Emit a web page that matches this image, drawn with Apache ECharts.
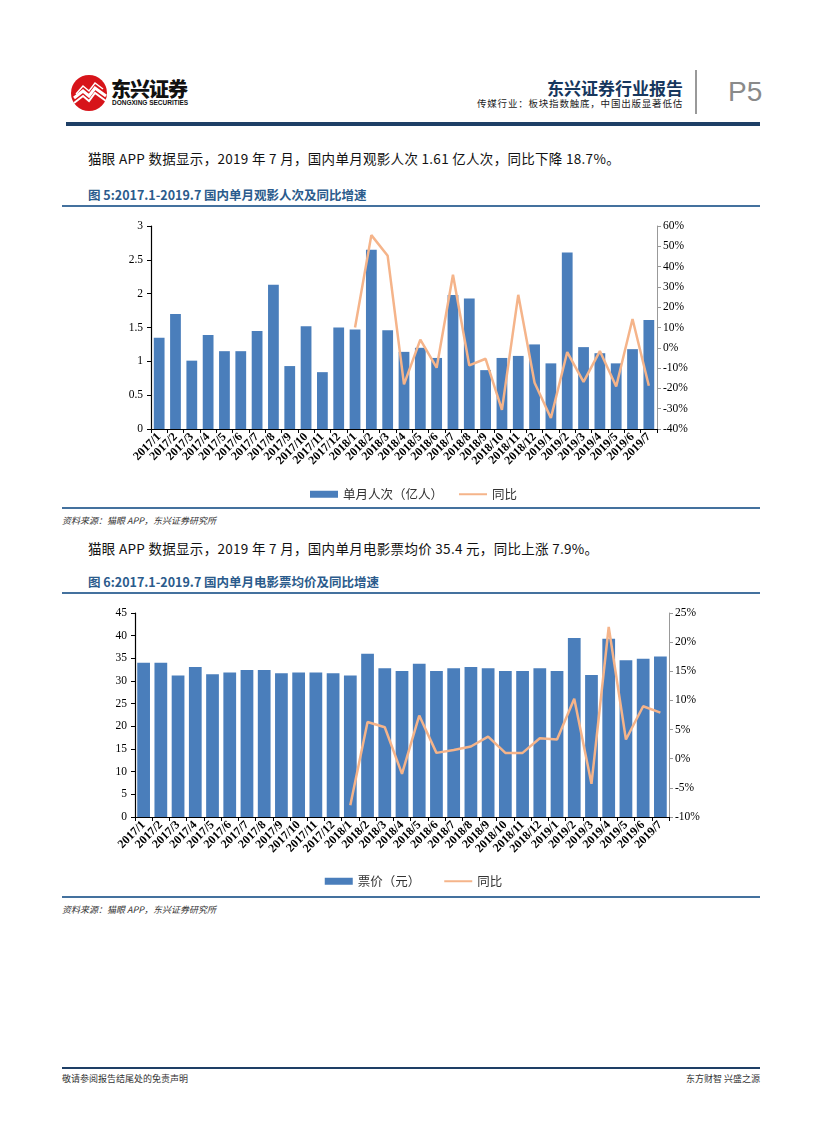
<!DOCTYPE html>
<html><head><meta charset="utf-8">
<script src="https://cdn.jsdelivr.net/npm/echarts@6/dist/echarts.min.js"></script>
<style>
html,body{margin:0;padding:0;background:#fff;}
body{width:827px;height:1122px;position:relative;overflow:hidden;font-family:"Noto Sans CJK SC","Noto Sans",sans-serif;}
.abs{position:absolute;}
.rule{position:absolute;left:62px;width:698px;}
.body{position:absolute;left:88px;font-size:13.5px;color:#111;font-family:"Noto Sans CJK SC";letter-spacing:0.3px;}
.ftitle{position:absolute;left:88px;font-size:12.5px;font-weight:bold;color:#2B5B8C;}
.src{position:absolute;left:62px;font-size:9px;font-style:italic;color:#333;}
</style></head>
<body>
<!-- header -->
<svg class="abs" style="left:70px;top:74px" width="40" height="40" viewBox="0 0 40 40">
 <circle cx="19" cy="19" r="18" fill="#D7141A"/>
 <path d="M4 24 L13 17 L19 22 L25 14 L36 22" stroke="#fff" stroke-width="3" fill="none"/>
 <path d="M4 29 L13 22 L19 27 L25 19 L36 27" stroke="#fff" stroke-width="2" fill="none"/>
 <path d="M6 20 L13 12 L19 17 L25 9 L33 15" stroke="#fff" stroke-width="1.5" fill="none"/>
</svg>
<div class="abs" style="left:111px;top:74px;font-size:20px;font-weight:900;color:#111;letter-spacing:-1px">东兴证券</div>
<div class="abs" style="left:112px;top:99px;font-size:6.5px;font-weight:bold;color:#111;font-family:'Liberation Sans'">DONGXING SECURITIES</div>
<div class="abs" style="right:144px;top:75px;font-size:17px;font-weight:bold;color:#17375E">东兴证券行业报告</div>
<div class="abs" style="right:144px;top:96px;font-size:9.5px;color:#222;letter-spacing:0.8px">传媒行业：板块指数触底，中国出版显著低估</div>
<div class="abs" style="left:695px;top:70px;width:2px;height:44px;background:#999"></div>
<div class="abs" style="left:728px;top:76px;font-size:28px;color:#8a8a8a;font-family:'Liberation Sans'">P5</div>
<div class="rule" style="left:66px;width:694px;top:122px;height:4px;background:#1E3F66"></div>

<div class="body" style="top:148px">猫眼 APP 数据显示，2019 年 7 月，国内单月观影人次 1.61 亿人次，同比下降 18.7%。</div>
<div class="ftitle" style="top:185px">图 5:2017.1-2019.7 国内单月观影人次及同比增速</div>
<div class="rule" style="top:205px;height:2px;background:#44719E"></div>
<div id="c1" class="abs" style="left:0;top:210px;width:827px;height:296px"></div>
<div class="rule" style="top:507px;height:1.5px;background:#44719E"></div>
<div class="src" style="top:514px">资料来源：猫眼 APP，东兴证券研究所</div>

<div class="body" style="top:538px">猫眼 APP 数据显示，2019 年 7 月，国内单月电影票均价 35.4 元，同比上涨 7.9%。</div>
<div class="ftitle" style="top:572px">图 6:2017.1-2019.7 国内单月电影票均价及同比增速</div>
<div class="rule" style="top:592px;height:2px;background:#44719E"></div>
<div id="c2" class="abs" style="left:0;top:597px;width:827px;height:298px"></div>
<div class="rule" style="top:896px;height:1.5px;background:#44719E"></div>
<div class="src" style="top:903px">资料来源：猫眼 APP，东兴证券研究所</div>

<div class="rule" style="top:1067px;height:2px;background:#1E3F66"></div>
<div class="abs" style="left:62px;top:1072px;font-size:9px;color:#333">敬请参阅报告结尾处的免责声明</div>
<div class="abs" style="right:67px;top:1072px;font-size:9px;color:#333">东方财智 兴盛之源</div>

<script>
const categories = ["2017/1","2017/2","2017/3","2017/4","2017/5","2017/6","2017/7","2017/8","2017/9","2017/10","2017/11","2017/12",
 "2018/1","2018/2","2018/3","2018/4","2018/5","2018/6","2018/7","2018/8","2018/9","2018/10","2018/11","2018/12",
 "2019/1","2019/2","2019/3","2019/4","2019/5","2019/6","2019/7"];
const admissions = [1.35,1.70,1.01,1.39,1.15,1.15,1.45,2.13,0.93,1.52,0.84,1.50,
 1.47,2.65,1.46,1.14,1.20,1.05,1.98,1.93,0.87,1.05,1.08,1.25,
 0.97,2.61,1.21,1.12,0.97,1.18,1.61];
const admissionsYoY = [null,null,null,null,null,null,null,null,null,null,null,null,
 10.0,55.5,45.3,-18.0,4.0,-9.8,36.0,-8.7,-5.4,-30.6,26.1,-17.2,
 -34.6,-2.1,-16.8,-1.6,-19.1,14.2,-18.7];
const prices = [34.0,34.0,31.2,33.1,31.5,31.9,32.4,32.4,31.7,31.9,31.9,31.7,
 31.2,36.0,32.8,32.2,33.8,32.2,32.8,33.1,32.8,32.2,32.2,32.8,
 32.2,39.5,31.3,39.3,34.6,34.9,35.4];
const pricesYoY = [null,null,null,null,null,null,null,null,null,null,null,null,
 -8.0,6.3,5.4,-2.6,7.4,1.0,1.5,2.1,3.8,1.0,1.0,3.5,
 3.3,10.3,-4.3,22.6,3.3,9.0,7.9];

const BAR = '#4A7EBB', LINE = '#F5B48A';
const serif = 'Liberation Serif';

function makeOption(cfg){
  return {
    animation:false,
    grid:{left:cfg.left, right:827-cfg.right, top:cfg.top, bottom:cfg.bottom},
    legend:{
      top:cfg.legendTop, left:'center', itemGap:cfg.legendGap, itemWidth:28, itemHeight:7,
      textStyle:{fontSize:12.5,color:'#333',fontFamily:'Noto Sans CJK SC'},
      data:[{name:cfg.barName, icon:'rect'},{name:'同比', icon:'path://M0,0 L28,0 L28,2 L0,2 Z', itemStyle:{color:LINE}}]
    },
    xAxis:{
      type:'category', data:categories, boundaryGap:true,
      axisLine:{lineStyle:{color:'#000',width:1.2}},
      axisTick:{show:true, alignWithLabel:false, length:4, lineStyle:{color:'#000'}},
      axisLabel:{rotate:45, interval:0, fontSize:12, color:'#000', fontFamily:serif, fontWeight:'bold', margin:6}
    },
    yAxis:[
      {type:'value', min:cfg.lmin, max:cfg.lmax, interval:cfg.lint, splitLine:{show:false},
       axisLine:{show:true,lineStyle:{color:'#000',width:1.2}},
       axisTick:{show:true,length:4,lineStyle:{color:'#000'}},
       axisLabel:{fontSize:11.5,color:'#000',fontFamily:serif,margin:8}},
      {type:'value', min:cfg.rmin, max:cfg.rmax, interval:cfg.rint, splitLine:{show:false}, position:'right',
       axisLine:{show:true,lineStyle:{color:'#999',width:1}},
       axisTick:{show:true,length:4,lineStyle:{color:'#999'}},
       axisLabel:{fontSize:11.5,color:'#000',fontFamily:serif,margin:6,formatter:'{value}%'}}
    ],
    series:[
      {name:cfg.barName, type:'bar', data:cfg.bars, barCategoryGap:cfg.gap, itemStyle:{color:BAR}},
      {name:'同比', type:'line', yAxisIndex:1, data:cfg.line, symbol:'none', connectNulls:false,
       lineStyle:{color:LINE,width:2.5}, itemStyle:{color:LINE}}
    ]
  };
}

const c1 = echarts.init(document.getElementById('c1'));
c1.setOption(makeOption({left:151,right:657,top:16,bottom:77,legendTop:273,legendGap:16,
  lmin:0,lmax:3,lint:0.5,rmin:-40,rmax:60,rint:10,
  barName:'单月人次（亿人）',bars:admissions,line:admissionsYoY,gap:'34%'}));

const c2 = echarts.init(document.getElementById('c2'));
c2.setOption(makeOption({left:135,right:669,top:16,bottom:78,legendTop:273,legendGap:24,
  lmin:0,lmax:45,lint:5,rmin:-10,rmax:25,rint:5,
  barName:'票价（元）',bars:prices,line:pricesYoY,gap:'26%'}));
</script>
</body></html>
